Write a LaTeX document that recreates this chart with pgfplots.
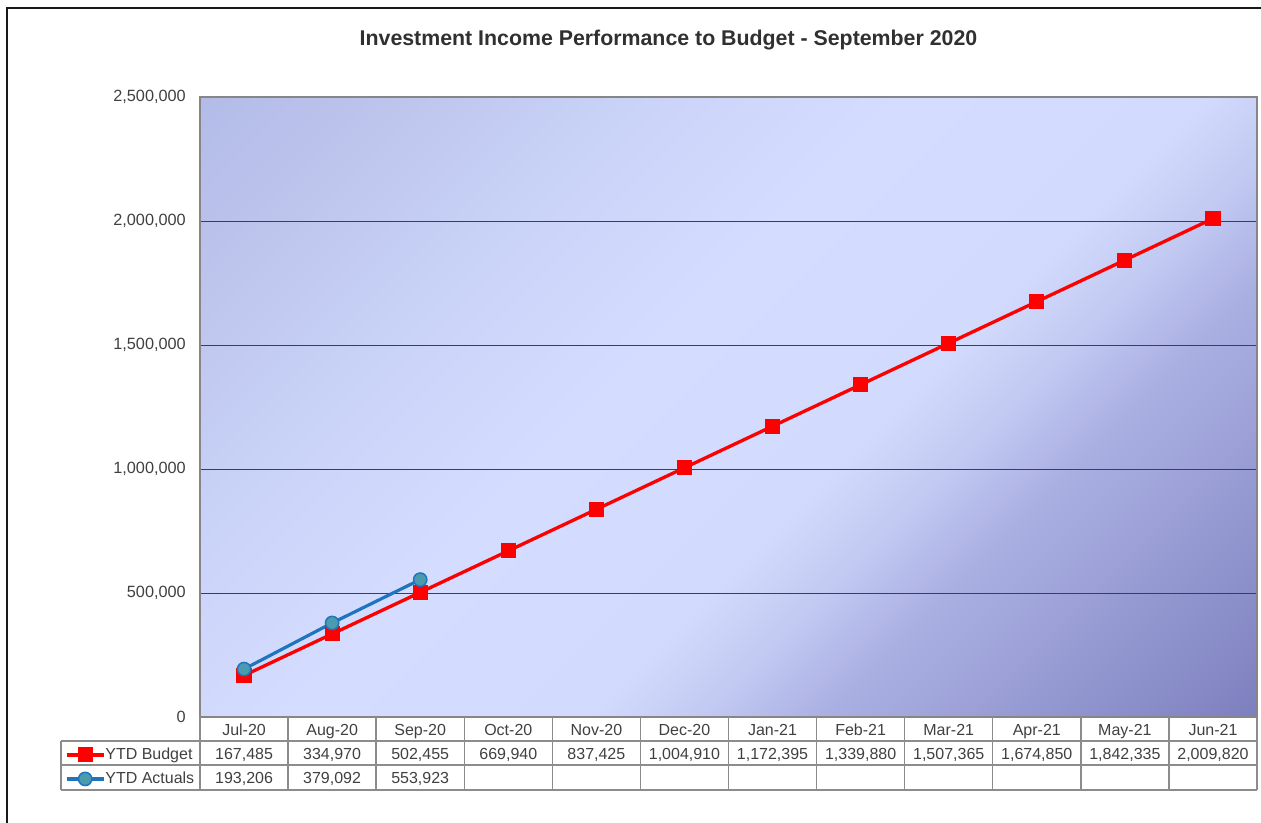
\documentclass[border=0pt]{standalone}
\usepackage{pgfplots}
\pgfplotsset{compat=1.18}
\usepackage{fontspec}
\setmainfont{Liberation Sans}
\definecolor{g0}{HTML}{B3BBE8}
\definecolor{g1}{HTML}{BEC6EE}
\definecolor{g2}{HTML}{CDD6FA}
\definecolor{g3}{HTML}{D4DDFF}
\definecolor{g4}{HTML}{D2DBFD}
\definecolor{g5}{HTML}{C2C9F2}
\definecolor{g6}{HTML}{ABB0E3}
\definecolor{g7}{HTML}{7D80BE}
\definecolor{txt}{HTML}{404040}
\definecolor{ttl}{HTML}{303030}
\definecolor{brd}{HTML}{868686}
\definecolor{grd}{HTML}{404040}
\definecolor{tbl}{HTML}{8C8C8C}
\definecolor{budred}{HTML}{FF0000}
\definecolor{actblue}{HTML}{1F74BD}
\definecolor{actfill}{HTML}{4A9BAD}
\pgfdeclarehorizontalshading{plotbg}{100bp}{color(0bp)=(g0); color(25bp)=(g0); color(31.5bp)=(g1); color(40bp)=(g2); color(46bp)=(g3); color(55bp)=(g4); color(58.5bp)=(g5); color(62bp)=(g6); color(75bp)=(g7); color(100bp)=(g7)}
\pgfplotstableread{
x y
0 167485
1 334970
2 502455
3 669940
4 837425
5 1004910
6 1172395
7 1339880
8 1507365
9 1674850
10 1842335
11 2009820
}\budget
\pgfplotstableread{
x y
0 193206
1 379092
2 553923
}\actuals
\begin{document}
\begin{tikzpicture}
\path[use as bounding box] (0pt,0pt) rectangle (945.75pt,-617.25pt);
\begin{scope}[x=0.75pt,y=-0.75pt]
  % outer frame
  \draw[line width=1.1pt,color=black!90] (7,823) -- (7,8) -- (1261,8);
  % title
  \node[font=\fontsize{16}{19}\selectfont\bfseries,text=ttl] at (668.5,40) {Investment Income Performance to Budget - September 2020};
  % plot background
  \begin{scope}
    \clip (200,97) rectangle (1257,717);
    \shade[shading=plotbg,shading angle=-45] (135.6,-185.9) rectangle (1321.4,999.9);
  \end{scope}
\end{scope}
\begin{axis}[
  at={(150pt,-537.75pt)}, anchor=south west,
  scale only axis, width=792.75pt, height=465pt,
  xmin=-0.5, xmax=11.5, ymin=0, ymax=2500000,
  xtick=\empty,
  ytick={0,500000,1000000,1500000,2000000,2500000},
  ymajorgrids,
  major grid style={draw=grd,line width=0.75pt},
  axis line style={draw=brd,line width=1.1pt},
  major tick length=0pt,
  scaled y ticks=false,
  yticklabel style={anchor=east,inner sep=0pt,xshift=-10.5pt,
    font=\fontsize{12.2}{14}\selectfont,text=txt,
    /pgf/number format/fixed,/pgf/number format/1000 sep={,},
    /pgf/number format/assume math mode=true},
  legend cell align=left,
  legend image code/.code={\draw[mark repeat=2,mark phase=2] plot coordinates {(0pt,0pt) (13.875pt,0pt) (27.75pt,0pt)};},
  legend style={at={(-0.1277,-0.0805)},anchor=west,draw=none,fill=none,
    inner xsep=0pt,inner ysep=0pt,outer sep=0pt,
    nodes={inner sep=0pt,text height=8.6pt,text depth=2.4pt},
    row sep=7pt,column sep=0pt,
    font=\fontsize{12}{14}\selectfont,text=txt},
]
\addplot[color=budred,line width=2.5pt,mark=square*,mark size=5.3pt,mark options={fill=budred,draw=budred,line width=0pt}] table[x=x,y=y] {\budget};
\addlegendentry{YTD Budget}
\addplot[color=actblue,line width=2.4pt,mark=*,mark size=5pt,mark options={fill=actfill,draw=actblue,line width=1.1pt}] table[x=x,y=y] {\actuals};
\addlegendentry{YTD Actuals}
\end{axis}
\begin{scope}[x=0.75pt,y=-0.75pt]
  % data table grid
  \draw[tbl,line width=1.1pt] (61,741) -- (1257,741);
  \draw[tbl,line width=1.1pt] (61,765) -- (1257,765);
  \draw[tbl,line width=1.1pt] (61,790) -- (1257,790);
  \draw[tbl,line width=1.1pt] (61,741) -- (61,790);
  \foreach \i in {0,...,12} {\draw[tbl,line width=1.1pt] ({200+88.0833*\i},717) -- ({200+88.0833*\i},790);}
  \begin{scope}[every node/.style={font=\fontsize{12}{14}\selectfont,text=txt,inner sep=0pt,anchor=base}]
  \foreach \m [count=\i from 0] in {Jul-20,Aug-20,Sep-20,Oct-20,Nov-20,Dec-20,Jan-21,Feb-21,Mar-21,Apr-21,May-21,Jun-21}
    {\node at ({244.04+88.0833*\i},735) {\m};}
  \foreach \v [count=\i from 0] in {{167,485},{334,970},{502,455},{669,940},{837,425},{1,004,910},{1,172,395},{1,339,880},{1,507,365},{1,674,850},{1,842,335},{2,009,820}}
    {\node at ({244.04+88.0833*\i},759) {\v};}
  \foreach \v [count=\i from 0] in {{193,206},{379,092},{553,923}}
    {\node at ({244.04+88.0833*\i},783) {\v};}
  \end{scope}
\end{scope}
\end{tikzpicture}
\end{document}
